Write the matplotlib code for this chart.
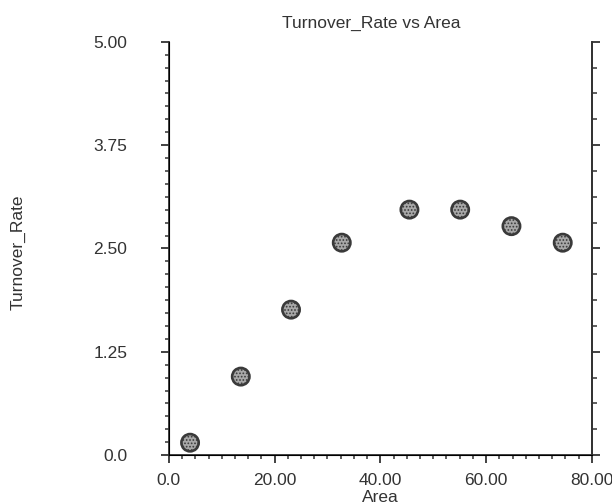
import matplotlib
matplotlib.use("Agg")
import matplotlib.pyplot as plt
from matplotlib.ticker import MultipleLocator, FixedLocator

# values
area = [4.0, 13.6, 23.1, 32.7, 45.5, 55.1, 64.8, 74.5]
turnover_rate = [0.15, 0.95, 1.76, 2.57, 2.97, 2.97, 2.77, 2.57]

y_ticks = [0.0, 1.25, 2.50, 3.75, 5.00]
y_labels = ["0.0", "1.25", "2.50", "3.75", "5.00"]
x_ticks = [0, 20, 40, 60, 80]
x_labels = ["0.0", "20.00", "40.00", "60.00", "80.00"]

plt.rcParams['font.family'] = ['Liberation Sans', 'DejaVu Sans']
plt.rcParams['hatch.linewidth'] = 0.8
ink = '#333333'
fs = 12.5

fig = plt.figure(figsize=(6.12, 5.04), dpi=100)
ax = fig.add_axes([0.276, 0.097, 0.691, 0.820])

ax.scatter(area, turnover_rate, s=155, facecolor='#a8a8a8', edgecolor='#3a3a3a',
           linewidths=1.9, hatch='.....', zorder=3, clip_on=False)

ax.set_xlim(0, 80)
ax.set_ylim(0, 5)
ax.set_xticks(x_ticks)
ax.set_xticklabels(x_labels)
ax.set_yticks(y_ticks)
ax.set_yticklabels(y_labels)
ax.xaxis.set_minor_locator(MultipleLocator(2.5))
ax.yaxis.set_minor_locator(MultipleLocator(1.25 / 8))

ax.spines['top'].set_visible(False)
for s in ['left', 'bottom', 'right']:
    ax.spines[s].set_linewidth(1.3)
    ax.spines[s].set_color(ink)

ax.tick_params(axis='y', which='major', direction='out', length=6, width=1.3,
               pad=24, labelsize=fs, colors=ink)
ax.tick_params(axis='y', which='minor', direction='out', length=3, width=1.1, colors=ink)
ax.tick_params(axis='x', which='major', direction='out', length=6, width=1.3,
               pad=7, labelsize=fs, colors=ink)
ax.tick_params(axis='x', which='minor', direction='out', length=3, width=1.1, colors=ink)

# right spine has its own coarser ticks
ax2 = ax.twinx()
ax2.set_ylim(0, 5)
ax2.spines['top'].set_visible(False)
ax2.spines['right'].set_linewidth(1.3)
ax2.spines['right'].set_color(ink)
ax2.yaxis.set_major_locator(FixedLocator(y_ticks))
ax2.yaxis.set_minor_locator(MultipleLocator(1.25 / 4))
ax2.set_yticklabels([])
ax2.tick_params(axis='y', which='major', direction='out', length=6, width=1.3, colors=ink)
ax2.tick_params(axis='y', which='minor', direction='out', length=3.5, width=1.1, colors=ink)

ax.set_title('Turnover_Rate vs Area', fontsize=fs, color=ink, pad=10, x=0.478)
ax.set_xlabel('Area', fontsize=fs, color=ink, labelpad=1)
fig.text(0.03, 0.5, 'Turnover_Rate', rotation=90, va='center', ha='center',
         fontsize=fs, color=ink)

fig.savefig('out.png', dpi=100)
